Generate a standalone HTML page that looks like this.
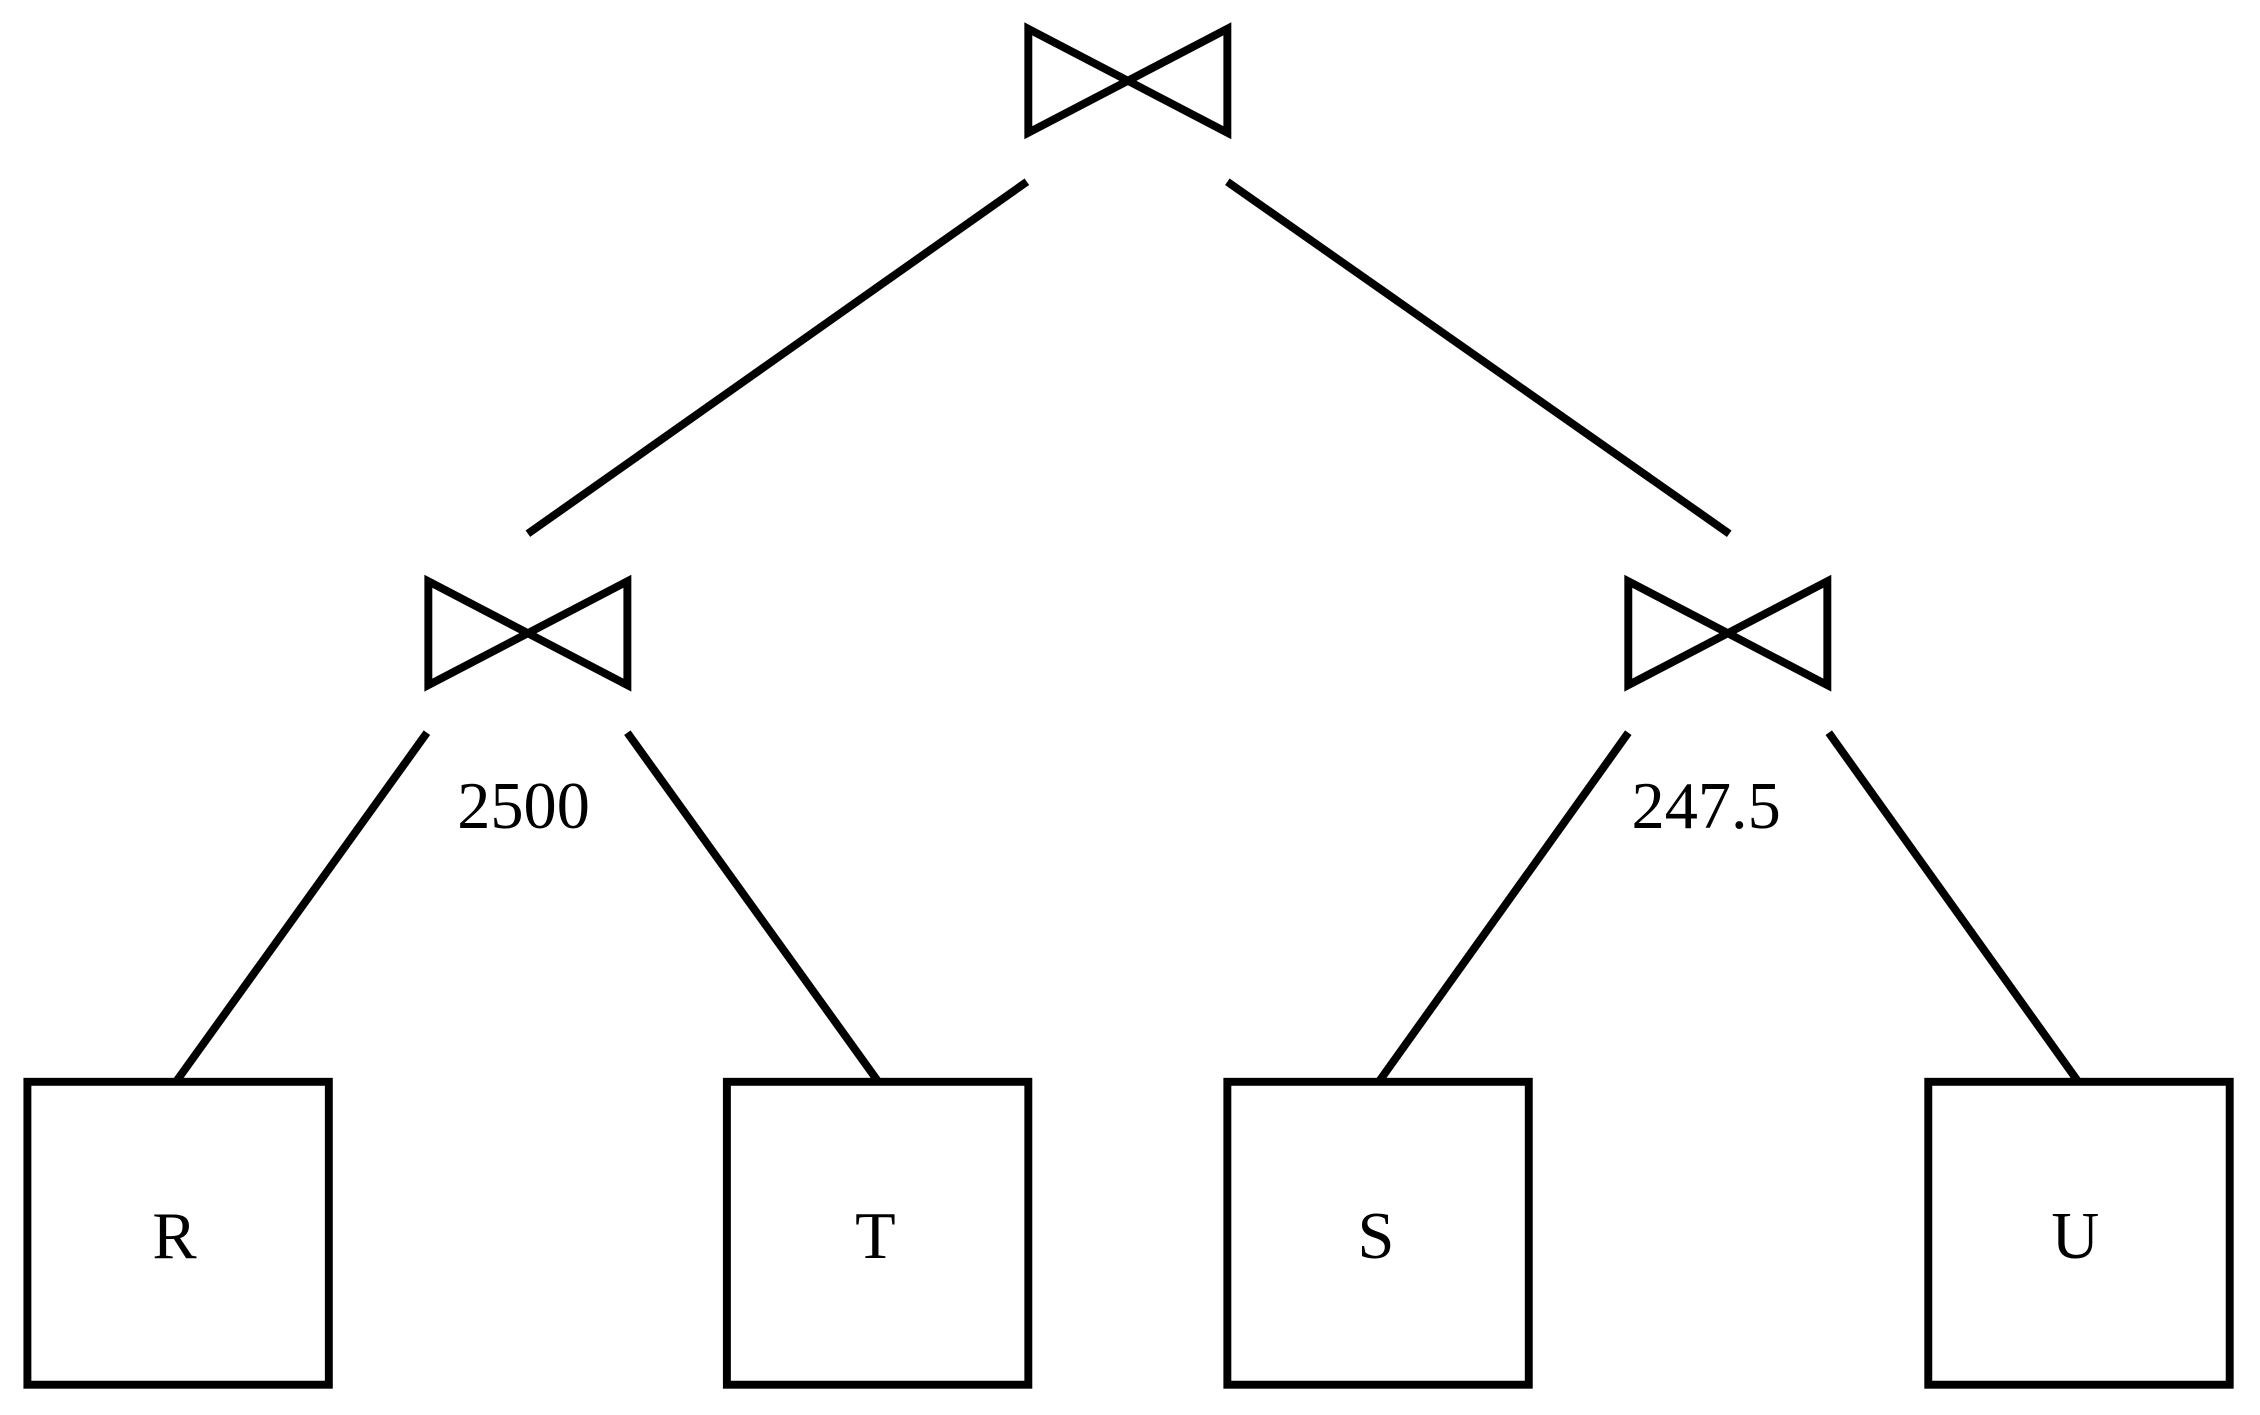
<!DOCTYPE html>
<html><head><style>html,body{margin:0;padding:0;background:#fff}svg{display:block}</style></head>
<body>
<svg width="2260" height="1415" viewBox="0 0 1567 981" preserveAspectRatio="none" xmlns="http://www.w3.org/2000/svg">
<g fill="none" stroke="#000" stroke-width="5.5">
<polygon points="713,20 851,92 851,20 713,92"/>
<polygon points="297,403 435,475 435,403 297,475"/>
<polygon points="1129,403 1267,475 1267,403 1129,475"/>
<line x1="712" y1="126" x2="366" y2="370"/>
<line x1="851" y1="126" x2="1199" y2="370"/>
<line x1="296" y1="508" x2="122" y2="750"/>
<line x1="435" y1="508" x2="609" y2="750"/>
<line x1="1129" y1="508" x2="956" y2="750"/>
<line x1="1268" y1="508" x2="1441" y2="750"/>
<rect x="19" y="750" width="209" height="210"/>
<rect x="504" y="750" width="209" height="210"/>
<rect x="851" y="750" width="209" height="210"/>
<rect x="1337" y="750" width="209" height="210"/>
</g>
<g font-family="Liberation Serif, serif" font-size="46" text-anchor="middle" fill="#000">
<text x="121" y="872">R</text>
<text x="607" y="872">T</text>
<text x="954" y="872">S</text>
<text x="1439" y="872">U</text>
<text x="363" y="574">2500</text>
<text x="1183" y="574">247.5</text>
</g>
</svg>
</body></html>
